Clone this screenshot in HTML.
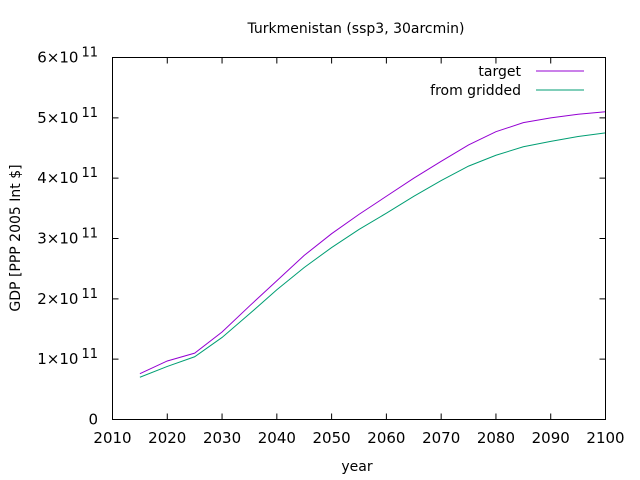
<!DOCTYPE html>
<html><head><meta charset="utf-8"><style>
body{margin:0;background:#fff}
svg{display:block;font-family:"DejaVu Sans","Liberation Sans",sans-serif;}
</style></head><body>
<svg id="chart" width="640" height="480">
<rect width="640" height="480" fill="#fff"/>
<text x="356" y="33" font-size="14" text-anchor="middle">Turkmenistan (ssp3, 30arcmin)</text>
<text x="357" y="471" font-size="14" text-anchor="middle">year</text>
<text transform="translate(20,238) rotate(-90)" font-size="14" text-anchor="middle">GDP [PPP 2005 Int $]</text>
<g id="axes"></g>
<g id="series"></g>
<g>
<text x="521" y="76" font-size="14" text-anchor="end">target</text>
<line x1="536" y1="71" x2="584" y2="71" stroke="#9400d3"/>
<text x="521" y="95" font-size="14" text-anchor="end">from gridded</text>
<line x1="536" y1="90" x2="584" y2="90" stroke="#009e73"/>
</g>
<rect x="112.5" y="57.5" width="493" height="362" fill="none" stroke="#000"/>
</svg>
<script>
const years=[2015,2020,2025,2030,2035,2040,2045,2050,2055,2060,2065,2070,2075,2080,2085,2090,2095,2100];
const target=[0.76,0.97,1.1,1.45,1.88,2.3,2.72,3.08,3.4,3.7,4.0,4.28,4.55,4.77,4.92,5.0,5.06,5.1];
const gridded=[0.70,0.88,1.04,1.36,1.75,2.15,2.52,2.85,3.15,3.42,3.7,3.96,4.2,4.38,4.52,4.61,4.69,4.75];
const xTicks=[2010,2020,2030,2040,2050,2060,2070,2080,2090,2100];
const yTicks=[0,1,2,3,4,5,6];
const X0=112.5,X1=605.5,Y0=419.5,Y1=57.5;
const sx=v=>X0+(v-2010)/90*(X1-X0);
const sy=v=>Y0-v/6*(Y0-Y1);
const NS="http://www.w3.org/2000/svg";
const ax=document.getElementById('axes');
function mk(t,a,p){const e=document.createElementNS(NS,t);for(const k in a)e.setAttribute(k,a[k]);p.appendChild(e);return e;}
xTicks.forEach(v=>{
 const x=sx(v);
 const l=mk('path',{d:`M${x},${Y0}v-6M${x},${Y1}v6`,stroke:'#000'},ax);
 
 
 const t=mk('text',{x:x,y:443,'font-size':15,'text-anchor':'middle'},ax);
 t.textContent=v;
 
 
});
yTicks.forEach(v=>{
 const y=sy(v);
 const l=mk('path',{d:`M${X0},${y}h6M${X1},${y}h-6`,stroke:'#000'},ax);
 
 
 const t=mk('text',{x:98,y:y+5,'font-size':15,'text-anchor':'end'},ax);
 if(v===0){t.textContent='0';}else{
  t.textContent=v+'×10';
  const s=document.createElementNS(NS,'tspan');s.setAttribute('dy','-6');s.setAttribute('font-size','13');s.setAttribute('dx','3');s.textContent='11';t.appendChild(s);
 }
 
 
});
const sg=document.getElementById('series');
[[target,'#9400d3','line-target'],[gridded,'#009e73','line-gridded']].forEach(([d,c,n])=>{
 const p=mk('polyline',{points:years.map((y,i)=>sx(y)+','+sy(d[i])).join(' '),fill:'none',stroke:c,'stroke-width':1},sg);
 
 
});
</script>
</body></html>
